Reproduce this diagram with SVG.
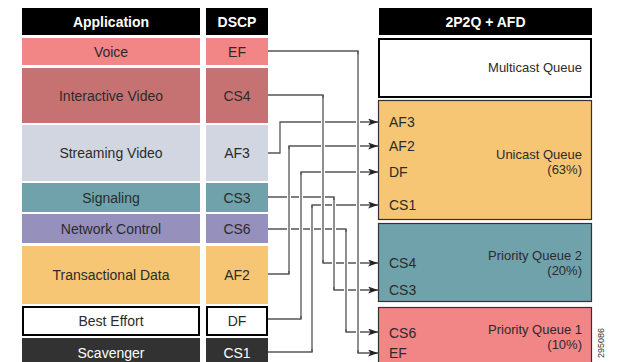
<svg xmlns="http://www.w3.org/2000/svg" width="628" height="362" viewBox="0 0 628 362">
<style>
.hd{fill:#000}
.ht{font-family:"Liberation Sans",Arial,sans-serif;font-weight:bold;font-size:14px;fill:#fff;text-anchor:middle}
.t{font-family:"Liberation Sans",Arial,sans-serif;font-size:14px;fill:#2b2b2b;text-anchor:middle}
.ql{font-family:"Liberation Sans",Arial,sans-serif;font-size:14px;fill:#2b2b2b}
.qr{font-family:"Liberation Sans",Arial,sans-serif;font-size:13px;fill:#2b2b2b;text-anchor:end}
.c{fill:none;stroke:#555;stroke-width:1.3}
.halo{fill:none;stroke:#fff;stroke-width:4}
.q{stroke:#333;stroke-width:1.2}
</style>
<defs>
<marker id="ah" markerUnits="userSpaceOnUse" markerWidth="10" markerHeight="8" refX="10" refY="3.5" orient="auto">
<path d="M0,0 L10,3.5 L0,7 L2.5,3.5 z" fill="#222"/>
</marker>
</defs>
<rect width="628" height="362" fill="#fff"/>
<g id="headers">
<rect class="hd" x="22" y="8" width="178" height="27"/>
<text class="ht" x="111" y="26.5">Application</text>
<rect class="hd" x="206" y="8" width="62" height="27"/>
<text class="ht" x="237" y="26.5">DSCP</text>
<rect class="hd" x="379" y="8" width="213" height="27"/>
<text class="ht" x="485.5" y="26.5">2P2Q + AFD</text>
</g>
<g id="voice">
<rect x="22" y="38" width="178" height="27" fill="#f28585"/>
<rect x="206" y="38" width="62" height="27" fill="#f28585"/>
<text class="t" x="111" y="56.5">Voice</text>
<text class="t" x="237" y="56.5">EF</text>
</g>
<g id="interactive-video">
<rect x="22" y="68" width="178" height="55" fill="#c77272"/>
<rect x="206" y="68" width="62" height="55" fill="#c77272"/>
<text class="t" x="111" y="100.5">Interactive Video</text>
<text class="t" x="237" y="100.5">CS4</text>
</g>
<g id="streaming-video">
<rect x="22" y="125" width="178" height="56" fill="#d2d6e1"/>
<rect x="206" y="125" width="62" height="56" fill="#d2d6e1"/>
<text class="t" x="111" y="158">Streaming Video</text>
<text class="t" x="237" y="158">AF3</text>
</g>
<g id="signaling">
<rect x="22" y="183" width="178" height="29" fill="#70a2ab"/>
<rect x="206" y="183" width="62" height="29" fill="#70a2ab"/>
<text class="t" x="111" y="202.5">Signaling</text>
<text class="t" x="237" y="202.5">CS3</text>
</g>
<g id="network-control">
<rect x="22" y="214" width="178" height="29" fill="#9690bc"/>
<rect x="206" y="214" width="62" height="29" fill="#9690bc"/>
<text class="t" x="111" y="233.5">Network Control</text>
<text class="t" x="237" y="233.5">CS6</text>
</g>
<g id="transactional-data">
<rect x="22" y="246" width="178" height="58" fill="#f6c674"/>
<rect x="206" y="246" width="62" height="58" fill="#f6c674"/>
<text class="t" x="111" y="280">Transactional Data</text>
<text class="t" x="237" y="280">AF2</text>
</g>
<g id="best-effort">
<rect x="23" y="307" width="176" height="28" fill="#fff" stroke="#000" stroke-width="2"/>
<rect x="207" y="307" width="60" height="28" fill="#fff" stroke="#000" stroke-width="2"/>
<text class="t" x="111" y="325.5">Best Effort</text>
<text class="t" x="237" y="325.5">DF</text>
</g>
<g id="scavenger">
<rect x="22" y="338" width="178" height="30" fill="#323232"/>
<rect x="206" y="338" width="62" height="30" fill="#323232"/>
<text class="t" x="111" y="357.5" style="fill:#fff">Scavenger</text>
<text class="t" x="237" y="357.5" style="fill:#fff">CS1</text>
</g>
<g id="multicast-queue">
<rect x="379" y="39" width="212" height="58" fill="#fff" stroke="#000" stroke-width="2"/>
<text class="qr" x="582" y="72">Multicast Queue</text>
</g>
<g id="unicast-queue">
<rect class="q" x="378.5" y="100.5" width="213" height="119" fill="#f6c674"/>
<text class="ql" x="389" y="127">AF3</text>
<text class="ql" x="389" y="151">AF2</text>
<text class="ql" x="389" y="177">DF</text>
<text class="ql" x="389" y="210">CS1</text>
<text class="qr" x="582" y="159">Unicast Queue</text>
<text class="qr" x="582" y="174">(63%)</text>
</g>
<g id="priority-queue-2">
<rect class="q" x="378.5" y="223.5" width="213" height="78" fill="#70a2ab"/>
<text class="ql" x="389" y="268">CS4</text>
<text class="ql" x="389" y="295">CS3</text>
<text class="qr" x="582" y="260">Priority Queue 2</text>
<text class="qr" x="582" y="275">(20%)</text>
</g>
<g id="priority-queue-1">
<rect class="q" x="378.5" y="307.5" width="213" height="60" fill="#f28585"/>
<text class="ql" x="389" y="338">CS6</text>
<text class="ql" x="389" y="358">EF</text>
<text class="qr" x="582" y="334">Priority Queue 1</text>
<text class="qr" x="582" y="349">(10%)</text>
</g>
<g id="connectors">
<path class="c" d="M268,51 H358 V353 H378" marker-end="url(#ah)"/>
<path class="c" d="M268,95 H323 V263 H378" marker-end="url(#ah)"/>
<path class="c" d="M268,153 H280 V122 H378" marker-end="url(#ah)"/>
<path class="c" d="M268,274 H289 V146 H378" marker-end="url(#ah)"/>
<path class="c" d="M268,319 H301 V172 H378" marker-end="url(#ah)"/>
<path class="c" d="M268,197 H334 V290 H378" marker-end="url(#ah)"/>
<path class="c" d="M268,229 H346 V332 H378" marker-end="url(#ah)"/>
<path class="c" d="M268,352 H312 V205 H378" marker-end="url(#ah)"/>
<path class="halo" d="M358,54 V350 M323,98 V260 M289,149 V271 M301,175 V316 M334,200 V287 M346,232 V329 M312,208 V349"/>
<path class="c" d="M358,51 V353 M323,95 V263 M289,146 V274 M301,172 V319 M334,197 V290 M346,229 V332 M312,205 V352"/>
</g>
<text transform="translate(603.5,328) rotate(-90)" font-family="'Liberation Sans',Arial,sans-serif" font-size="9" fill="#333" text-anchor="end">295086</text>
</svg>
